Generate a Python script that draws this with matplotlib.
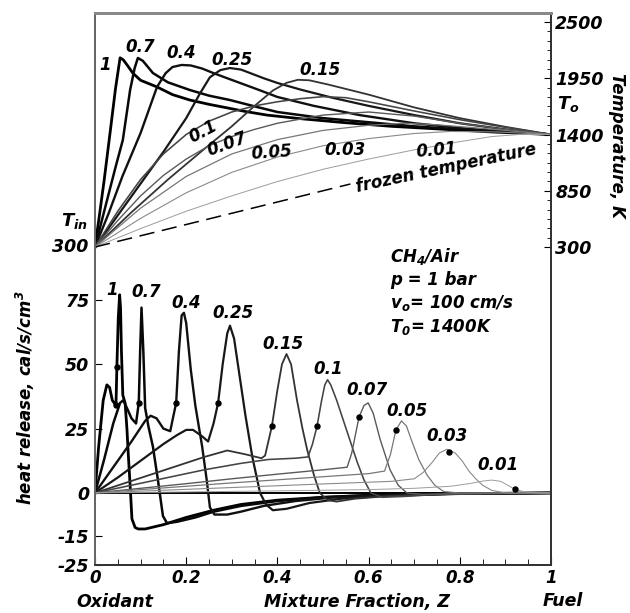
import numpy as np
import matplotlib
matplotlib.use('Agg')
import matplotlib.pyplot as plt
import matplotlib.ticker as tkr

# curve labels (same order for heat release and temperature)
LABELS = ['1', '0.7', '0.4', '0.25', '0.15', '0.1', '0.07', '0.05', '0.03', '0.01']

# heat release, cal/s/cm3 vs mixture fraction Z
HR_1_Z = [0, 0.008, 0.018, 0.026, 0.032, 0.038, 0.046, 0.048, 0.051, 0.054, 0.056, 0.058, 0.061, 0.066, 0.07, 0.073,
          0.077, 0.081, 0.088, 0.095, 0.11, 0.15, 0.2, 0.26, 0.32, 0.4, 0.5, 0.6, 0.75, 1.0]
HR_1 = [0, 18, 36, 42, 41, 36, 34, 49, 68, 77, 72, 55, 38, 35, 25, 15,
        3, -9, -12, -12.5, -12.5, -11, -8.5, -6, -4, -2.5, -1.5, -0.8, -0.3, 0]
HR_07_Z = [0, 0.02, 0.04, 0.055, 0.062, 0.07, 0.08, 0.09, 0.096, 0.099, 0.102, 0.106, 0.11, 0.117, 0.127, 0.138,
           0.149, 0.158, 0.18, 0.22, 0.26, 0.32, 0.4, 0.5, 0.62, 0.78, 1.0]
HR_07 = [0, 13, 27, 35, 36, 33, 29, 27, 35, 55, 72, 55, 33, 26, 18, 5,
         -8, -10.5, -10, -8.5, -6.5, -4.5, -2.8, -1.5, -0.7, -0.2, 0]
HR_04_Z = [0, 0.04, 0.08, 0.11, 0.122, 0.135, 0.15, 0.165, 0.172, 0.178, 0.184, 0.19, 0.195, 0.2, 0.21, 0.22, 0.235,
           0.245, 0.252, 0.262, 0.29, 0.32, 0.37, 0.44, 0.52, 0.64, 0.8, 1.0]
HR_04 = [0, 10, 20, 28, 30, 29, 25, 24, 30, 35, 55, 69, 70, 66, 48, 34, 18,
         5, -5, -7.5, -7.5, -6.5, -4.5, -2.8, -1.6, -0.7, -0.2, 0]
HR_025_Z = [0, 0.05, 0.1, 0.15, 0.18, 0.2, 0.215, 0.235, 0.248, 0.26, 0.27, 0.28, 0.29, 0.296, 0.305, 0.315, 0.33,
            0.345, 0.362, 0.375, 0.39, 0.42, 0.47, 0.54, 0.64, 0.8, 1.0]
HR_025 = [0, 6, 12.5, 19, 22.5, 24.5, 24.5, 22, 20, 27, 35, 50, 62, 65, 60, 48, 30,
          14, 0, -4, -6, -5.5, -3.5, -2, -1, -0.3, 0]
HR_015_Z = [0, 0.06, 0.12, 0.18, 0.24, 0.29, 0.33, 0.365, 0.373, 0.388, 0.4, 0.41, 0.42, 0.43, 0.443, 0.455, 0.465,
            0.48, 0.493, 0.51, 0.53, 0.57, 0.65, 0.8, 1.0]
HR_015 = [0, 3.5, 7, 10.5, 14, 16.5, 15, 13.5, 14.5, 26, 40, 50, 54, 50, 36, 25, 17,
          7, 0, -2.5, -3, -2, -1, -0.3, 0]
HR_01_Z = [0, 0.08, 0.16, 0.24, 0.32, 0.38, 0.44, 0.467, 0.477, 0.487, 0.497, 0.504, 0.51, 0.517, 0.53, 0.545, 0.56,
           0.575, 0.59, 0.605, 0.63, 0.68, 0.75, 0.9, 1.0]
HR_01 = [0, 3, 6, 9, 11.5, 13, 13.5, 14, 19, 26, 36, 42, 44, 42, 36, 28, 20,
         12, 5, 0, -1.5, -1.2, -0.5, -0.1, 0]
HR_007_Z = [0, 0.1, 0.2, 0.3, 0.4, 0.5, 0.553, 0.563, 0.579, 0.59, 0.599, 0.61, 0.625, 0.647, 0.665, 0.684, 0.72, 0.8, 1.0]
HR_007 = [0, 1.8, 3.6, 5.5, 7.3, 9, 10, 15.5, 29.5, 34, 35, 31, 21, 9, 3, 0, -0.5, -0.2, 0]
HR_005_Z = [0, 0.1, 0.2, 0.3, 0.4, 0.5, 0.6, 0.635, 0.648, 0.66, 0.672, 0.683, 0.695, 0.71, 0.728, 0.745, 0.765, 0.8, 1.0]
HR_005 = [0, 1.3, 2.6, 3.9, 5.1, 6.3, 7.5, 8.5, 15, 24.5, 28, 26, 20, 13, 7, 3, 0.5, 0, 0]
HR_003_Z = [0, 0.1, 0.3, 0.5, 0.65, 0.7, 0.72, 0.74, 0.755, 0.772, 0.79, 0.805, 0.82, 0.835, 0.85, 0.87, 0.9, 1.0]
HR_003 = [0, 0.7, 2.1, 3.5, 4.5, 5.5, 8, 12, 15.5, 17, 15.5, 12.5, 8.5, 5.5, 3, 1, 0, 0]
HR_001_Z = [0, 0.2, 0.4, 0.6, 0.7, 0.78, 0.82, 0.85, 0.87, 0.89, 0.905, 0.92, 0.94, 0.97, 1.0]
HR_001 = [0, 0.4, 0.8, 1.3, 1.8, 2.6, 3.6, 4.6, 5, 4.5, 3, 1.5, 0.5, 0, 0]

# marked points on the heat release curves
DOT_Z = [0.046, 0.048, 0.096, 0.178, 0.27, 0.388, 0.487, 0.579, 0.66, 0.776, 0.921]
DOT_Q = [34, 49, 35, 35, 35, 26, 26, 29.5, 24.5, 16, 1.5]

# temperature, K vs Z
T_1_Z = [0, 0.01, 0.02, 0.033, 0.045, 0.055, 0.062, 0.072, 0.083, 0.1, 0.136, 0.17, 0.208, 0.25, 0.28, 0.33, 0.377,
         0.45, 0.55, 0.65, 0.75, 0.87, 1]
T_1 = [300, 620, 950, 1415, 1850, 2150, 2130, 2070, 2000, 1930, 1865, 1790, 1737, 1695, 1669, 1625, 1590,
       1555, 1515, 1480, 1455, 1425, 1400]
T_07_Z = [0, 0.015, 0.03, 0.045, 0.061, 0.077, 0.087, 0.094, 0.105, 0.127, 0.16, 0.208, 0.25, 0.296, 0.35, 0.4, 0.5,
          0.6, 0.7, 0.8, 0.9, 1]
T_07 = [300, 560, 820, 1080, 1346, 1835, 2050, 2148, 2120, 2001, 1910, 1835, 1780, 1737, 1675, 1620, 1560,
        1520, 1480, 1450, 1425, 1400]
T_04_Z = [0, 0.03, 0.06, 0.1, 0.136, 0.155, 0.17, 0.19, 0.21, 0.235, 0.26, 0.29, 0.318, 0.36, 0.4, 0.48, 0.58, 0.7,
          0.82, 1]
T_04 = [300, 630, 990, 1415, 1865, 2000, 2060, 2080, 2075, 2045, 2000, 1950, 1904, 1835, 1767, 1680, 1590, 1510,
        1455, 1400]
T_025_Z = [0, 0.05, 0.1, 0.15, 0.2, 0.23, 0.252, 0.275, 0.296, 0.32, 0.34, 0.37, 0.4, 0.45, 0.52, 0.6, 0.7, 0.8, 0.9, 1]
T_025 = [300, 610, 920, 1230, 1560, 1800, 1960, 2030, 2050, 2035, 2001, 1950, 1904, 1840, 1760, 1680, 1590, 1510,
         1450, 1400]
T_015_Z = [0, 0.08, 0.16, 0.24, 0.3, 0.35, 0.39, 0.42, 0.445, 0.47, 0.51, 0.6, 0.7, 0.8, 0.9, 1]
T_015 = [300, 640, 960, 1260, 1480, 1680, 1830, 1905, 1935, 1930, 1890, 1790, 1665, 1560, 1475, 1400]
T_01_Z = [0, 0.05, 0.1, 0.15, 0.2, 0.25, 0.3, 0.35, 0.4, 0.45, 0.5, 0.55, 0.6, 0.7, 0.8, 0.9, 1]
T_01 = [300, 650, 960, 1210, 1400, 1530, 1620, 1680, 1720, 1750, 1770, 1760, 1720, 1630, 1545, 1470, 1400]
T_007_Z = [0, 0.05, 0.1, 0.15, 0.2, 0.25, 0.3, 0.35, 0.4, 0.5, 0.6, 0.7, 0.8, 0.9, 1]
T_007 = [300, 560, 800, 1000, 1160, 1290, 1380, 1450, 1510, 1590, 1620, 1580, 1510, 1450, 1400]
T_005_Z = [0, 0.1, 0.2, 0.3, 0.4, 0.5, 0.6, 0.68, 0.75, 0.85, 1]
T_005 = [300, 680, 990, 1210, 1350, 1440, 1490, 1510, 1495, 1460, 1400]
T_003_Z = [0, 0.1, 0.2, 0.3, 0.4, 0.5, 0.6, 0.7, 0.78, 0.88, 1]
T_003 = [300, 580, 830, 1030, 1180, 1290, 1360, 1410, 1430, 1425, 1400]
T_001_Z = [0, 0.1, 0.2, 0.3, 0.4, 0.5, 0.6, 0.7, 0.8, 0.87, 0.93, 1]
T_001 = [300, 480, 650, 800, 940, 1060, 1160, 1250, 1330, 1380, 1400, 1400]

FROZEN_Z = [0, 0.56]
FROZEN_T = [300, 916]

HR_Z = [HR_1_Z, HR_07_Z, HR_04_Z, HR_025_Z, HR_015_Z, HR_01_Z, HR_007_Z, HR_005_Z, HR_003_Z, HR_001_Z]
HR_Q = [HR_1, HR_07, HR_04, HR_025, HR_015, HR_01, HR_007, HR_005, HR_003, HR_001]
T_Z = [T_1_Z, T_07_Z, T_04_Z, T_025_Z, T_015_Z, T_01_Z, T_007_Z, T_005_Z, T_003_Z, T_001_Z]
T_V = [T_1, T_07, T_04, T_025, T_015, T_01, T_007, T_005, T_003, T_001]

# label positions
HR_LAB_Z = [0.037, 0.112, 0.2, 0.303, 0.412, 0.511, 0.596, 0.684, 0.772, 0.884]
HR_LAB_Q = [79, 78, 74, 70, 58, 48, 40, 32, 22, 11]
T_LAB_Z = [0.022, 0.1, 0.19, 0.3, 0.493, 0.238, 0.29, 0.388, 0.548, 0.75]
T_LAB_T = [2080, 2256, 2197, 2128, 2031, 1425, 1300, 1219, 1248, 1250]
T_LAB_ROT = [0, 0, 0, 0, 0, 28, 20, 4, 0, 5]

LW = [2.0, 1.8, 1.7, 1.6, 1.3, 1.15, 1.0, 0.9, 0.8, 0.7]
GREY = ['#000000', '#080808', '#101010', '#181818', '#333333', '#444444', '#5a5a5a', '#777777', '#8a8a8a', '#9c9c9c']


def fwd(y):
    y = np.asarray(y, dtype=float)
    return np.where(y < 0, y * 1.12, y)


def inv(y):
    y = np.asarray(y, dtype=float)
    return np.where(y < 0, y / 1.12, y)


def chart():
    plt.rcParams.update({'font.family': 'DejaVu Sans',
                         'font.weight': 'bold',
                         'font.style': 'oblique',
                         'font.size': 12,
                         'mathtext.fontset': 'custom',
                         'mathtext.rm': 'DejaVu Sans:oblique:bold',
                         'mathtext.it': 'DejaVu Sans:oblique:bold',
                         'mathtext.bf': 'DejaVu Sans:oblique:bold'})
    W, H = 630, 613
    fig = plt.figure(figsize=(W / 100, H / 100), dpi=100)
    ax = fig.add_axes([95 / W, 1 - 565 / H, 456 / W, 552 / H])
    ax.set_yscale('function', functions=(fwd, inv))
    ax.set_xlim(0, 1)
    ax.set_ylim(-25, 186.5)
    ax2 = ax.twinx()
    ax2.set_ylim(-2809, 2588)

    # heat release
    ax.axhline(0, color='k', lw=1.4, zorder=1)
    for z, q, lw, c in zip(HR_Z, HR_Q, LW, GREY):
        ax.plot(z, q, color=c, lw=lw)
    ax.scatter(DOT_Z, DOT_Q, s=13, color='k', zorder=5)
    for z, q, t in zip(HR_LAB_Z, HR_LAB_Q, LABELS):
        ax.text(z, q, t, ha='center', va='center', fontsize=12)

    # temperature
    for z, v, lw, c in zip(T_Z, T_V, LW, GREY):
        ax2.plot(z, v, color=c, lw=lw)
    ax2.plot(FROZEN_Z, FROZEN_T, color='k', lw=1.1, dashes=(10, 5))
    ax2.text(0.77, 1075, 'frozen temperature', rotation=12, ha='center', va='center',
             rotation_mode='anchor', fontsize=12)
    for z, v, t, r in zip(T_LAB_Z, T_LAB_T, LABELS, T_LAB_ROT):
        ax2.text(z, v, t, ha='center', va='center', rotation=r, rotation_mode='anchor', fontsize=12)

    # x axis
    ax.set_xticks([0, 0.2, 0.4, 0.6, 0.8, 1])
    ax.set_xticklabels(['0', '0.2', '0.4', '0.6', '0.8', '1'])
    ax.xaxis.set_minor_locator(tkr.MultipleLocator(0.05))
    ax.tick_params(axis='x', which='major', direction='in', length=6, pad=3, labelsize=12)
    ax.tick_params(axis='x', which='minor', direction='in', length=4)

    # left axis (heat release)
    ax.set_yticks([-25, -15, 0, 25, 50, 75])
    ax.set_yticklabels(['-25', '-15', '0', '25', '50', '75'])
    ax.yaxis.set_minor_locator(tkr.NullLocator())
    ax.tick_params(axis='y', which='major', direction='in', length=5, pad=4, labelsize=12.5)

    # right axis (temperature)
    ax2.set_yticks([300, 850, 1400, 1950, 2500])
    ax2.yaxis.set_minor_locator(tkr.FixedLocator(np.linspace(300, 2500, 25)))
    ax2.tick_params(axis='y', which='major', direction='in', length=5, pad=3, labelsize=12.5)
    ax2.tick_params(axis='y', which='minor', direction='in', length=3)

    for a in (ax, ax2):
        a.spines['top'].set_color('#888888')
        a.spines['top'].set_linewidth(2.0)
        a.spines['left'].set_color('#666666')
        a.spines['left'].set_linewidth(1.4)
        a.spines['right'].set_color('#333333')
        a.spines['right'].set_linewidth(1.3)
        a.spines['bottom'].set_color('#333333')
        a.spines['bottom'].set_linewidth(1.3)

    ax2.text(-0.015, 300, '300', ha='right', va='center', fontsize=12.5)
    ax2.text(-0.015, 555, 'T$_{in}$', ha='right', va='center', fontsize=13)
    ax2.text(1.013, 1700, 'T$_o$', ha='left', va='center', fontsize=13)

    ax.text(0.647, 91.7, 'CH$_4$/Air', ha='left', va='center', fontsize=12)
    ax.text(0.647, 82.8, 'p = 1 bar', ha='left', va='center', fontsize=12)
    ax.text(0.647, 73.8, 'v$_o$= 100 cm/s', ha='left', va='center', fontsize=12)
    ax.text(0.647, 64.5, 'T$_0$= 1400K', ha='left', va='center', fontsize=12)

    # axis titles
    fig.text(25 / W, 1 - 398 / H, 'heat release, cal/s/cm$^3$', rotation=90, ha='center', va='center', fontsize=12)
    fig.text(617 / W, 1 - 145 / H, 'Temperature, K', rotation=270, ha='center', va='center', fontsize=12)
    fig.text(115 / W, 1 - 602 / H, 'Oxidant', ha='center', va='center', fontsize=12.5)
    fig.text(357 / W, 1 - 602 / H, 'Mixture Fraction, Z', ha='center', va='center', fontsize=12.5)
    fig.text(563 / W, 1 - 601 / H, 'Fuel', ha='center', va='center', fontsize=12.5)

    plt.savefig('out.png', dpi=100)
    plt.close()


if __name__ == '__main__':
    chart()
